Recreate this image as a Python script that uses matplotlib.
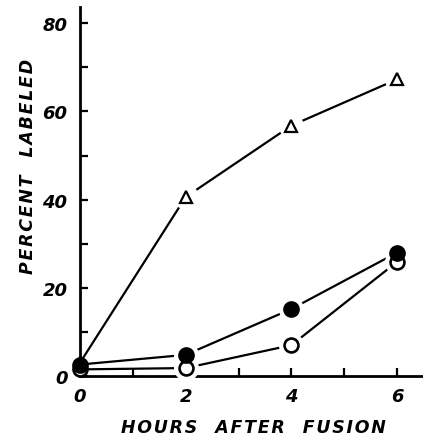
import matplotlib
matplotlib.use("Agg")
import matplotlib.pyplot as plt
from matplotlib.ticker import MultipleLocator

hours = [0, 2, 4, 6]
triangle_vals = [3.0, 40.6, 56.8, 67.3]
filled_vals = [2.6, 4.8, 15.2, 28.0]
open_vals = [1.5, 1.8, 7.0, 25.9]

x_ticks = [0, 2, 4, 6]
y_ticks = [0, 20, 40, 60, 80]

FAM = "DejaVu Sans"
font = dict(family=FAM, weight="bold", style="italic")

def spaced(s):
    hs = "\u200a"
    return "   ".join(hs.join(w) for w in s.split(" "))

fig = plt.figure(figsize=(4.23, 4.39), dpi=100)
ax = fig.add_axes([80/423, 1-377/439, 343/423, 369/439])

lw = 1.6
for vals in (triangle_vals, filled_vals, open_vals):
    ax.plot(hours, vals, color="black", lw=lw, zorder=2, clip_on=False,
            solid_capstyle="round")
    ax.plot(hours[1:], vals[1:], ls="none", marker="o", ms=17,
            mfc="white", mec="white", zorder=3, clip_on=False)

ax.plot(hours, triangle_vals, ls="none", marker="^", ms=9, mfc="white",
        mec="black", mew=1.6, zorder=4, clip_on=False)
ax.plot(hours, open_vals, ls="none", marker="o", ms=10, mfc="white",
        mec="black", mew=1.9, zorder=5, clip_on=False)
ax.plot(hours, filled_vals, ls="none", marker="o", ms=10.5, mfc="black",
        mec="black", mew=1.5, zorder=6, clip_on=False)
ax.plot(hours[:1], triangle_vals[:1], ls="none", marker="^", ms=10, mfc="black",
        mec="black", zorder=6, clip_on=False)

ax.set_xlim(0, 6.49)
ax.set_ylim(0, 83.7)
ax.spines["top"].set_visible(False)
ax.spines["right"].set_visible(False)
ax.spines["left"].set_linewidth(2.0)
ax.spines["bottom"].set_linewidth(2.0)

ax.set_xticks(x_ticks)
ax.set_yticks(y_ticks)
ax.xaxis.set_minor_locator(MultipleLocator(1))
ax.yaxis.set_minor_locator(MultipleLocator(10))
ax.tick_params(which="both", direction="in", length=6, width=1.6)
ax.tick_params(axis="y", pad=9)
ax.tick_params(axis="x", pad=8)
for lab in ax.get_xticklabels() + ax.get_yticklabels():
    lab.set_fontfamily(FAM)
    lab.set_fontweight("bold")
    lab.set_fontstyle("italic")
    lab.set_fontsize(13)

ax.set_xlabel(spaced("HOURS AFTER FUSION"), fontsize=12.5, **font)
ax.set_ylabel(spaced("PERCENT LABELED"), fontsize=12.5, **font)
ax.xaxis.set_label_coords((253-80)/343, -(419-377)/369)
ax.yaxis.set_label_coords(-(80-37)/343, (377-166)/369)

fig.savefig("out.png", dpi=100)
